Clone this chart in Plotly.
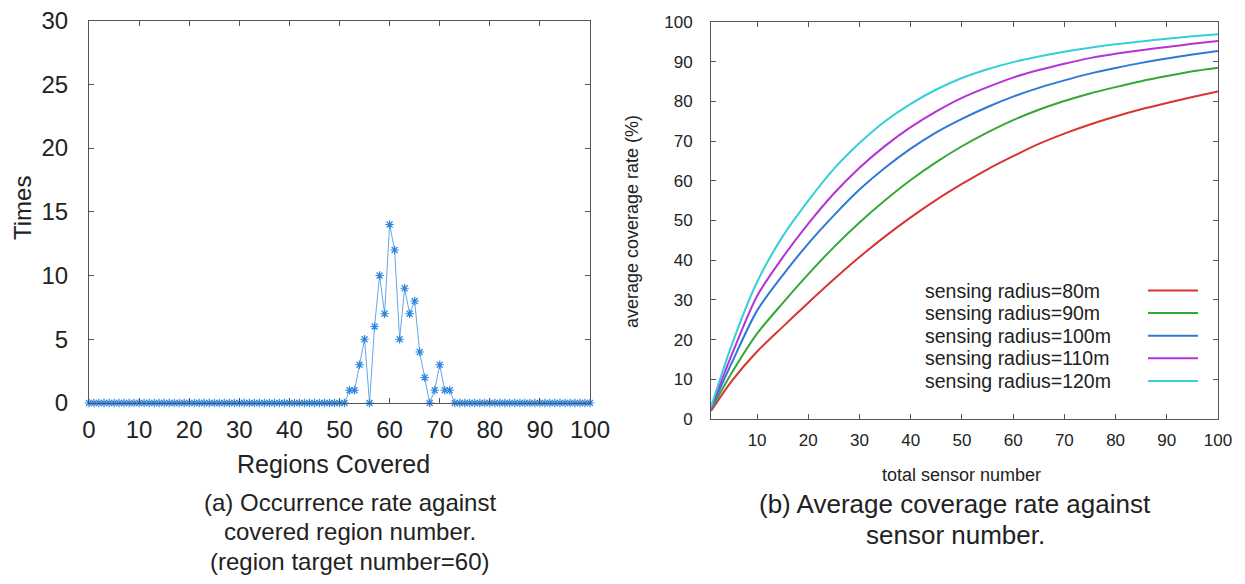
import plotly.graph_objects as go

# ---------- data: panel (a) ----------
regions = list(range(0, 101))
times = [0, 0, 0, 0, 0, 0, 0, 0, 0, 0,
         0, 0, 0, 0, 0, 0, 0, 0, 0, 0,
         0, 0, 0, 0, 0, 0, 0, 0, 0, 0,
         0, 0, 0, 0, 0, 0, 0, 0, 0, 0,
         0, 0, 0, 0, 0, 0, 0, 0, 0, 0,
         0, 0, 1, 1, 3, 5, 0, 6, 10, 7,
         14, 12, 5, 9, 7, 8, 4, 2, 0, 1,
         3, 1, 1, 0, 0, 0, 0, 0, 0, 0,
         0, 0, 0, 0, 0, 0, 0, 0, 0, 0,
         0, 0, 0, 0, 0, 0, 0, 0, 0, 0,
         0]

# ---------- data: panel (b) ----------
sensors = [1, 5, 10, 15, 20, 25, 30, 35, 40, 45, 50, 55, 60, 65, 70, 75, 80, 85, 90, 95, 100]
cov_80 = [2.0, 9.5, 17.0, 23.2, 29.3, 35.2, 40.8, 46.0, 50.8, 55.2, 59.2, 62.9, 66.2, 69.3, 71.9, 74.2, 76.2, 78.0, 79.6, 81.1, 82.5]
cov_90 = [2.3, 11.5, 21.5, 29.2, 36.5, 43.3, 49.5, 55.1, 60.2, 64.7, 68.7, 72.2, 75.3, 77.9, 80.1, 82.0, 83.6, 85.1, 86.4, 87.6, 88.5]
cov_100 = [2.5, 14.0, 27.3, 36.2, 44.2, 51.3, 57.8, 63.3, 68.1, 72.2, 75.6, 78.6, 81.2, 83.4, 85.3, 87.0, 88.4, 89.7, 90.8, 91.8, 92.7]
cov_110 = [2.7, 16.0, 31.0, 40.7, 49.2, 56.8, 63.3, 68.8, 73.5, 77.5, 80.9, 83.6, 86.0, 87.9, 89.5, 90.9, 92.0, 92.9, 93.7, 94.5, 95.2]
cov_120 = [3.0, 18.5, 34.5, 46.0, 55.0, 63.0, 69.5, 75.0, 79.4, 83.0, 85.9, 88.1, 89.9, 91.3, 92.5, 93.5, 94.4, 95.1, 95.8, 96.4, 96.9]
series_names = ["sensing radius=80m", "sensing radius=90m", "sensing radius=100m",
                "sensing radius=110m", "sensing radius=120m"]
series_vals = [cov_80, cov_90, cov_100, cov_110, cov_120]
series_colors = ["#d93434", "#34a834", "#2f79d6", "#b532d6", "#34cfd9"]

FONT = "Liberation Sans, Arial, sans-serif"
TXT = "#222222"
AX = "#555555"

# the page body adds an 8px margin around the plot
OFF = 8
W, H = 1245 - 2 * OFF, 584 - 2 * OFF


def px_x(px):
    return (px - OFF) / W


def px_y(py):
    return 1 - (py - OFF) / H


fig = go.Figure()

fig.add_trace(go.Scatter(
    x=regions, y=times, mode="lines+markers",
    line=dict(color="#62a8ec", width=1),
    marker=dict(symbol="asterisk-open", size=7, color="#2f86e0",
                line=dict(color="#2f86e0", width=1.2)),
    cliponaxis=False, showlegend=False, xaxis="x", yaxis="y"))

for name, vals, col in zip(series_names, series_vals, series_colors):
    fig.add_trace(go.Scatter(
        x=sensors, y=vals, mode="lines", name=name,
        line=dict(color=col, width=2, shape="spline", smoothing=0.8),
        showlegend=False, xaxis="x2", yaxis="y2"))

axis_common = dict(showgrid=False, zeroline=False, showline=True, linecolor=AX,
                   linewidth=1, mirror="ticks", ticks="inside", tickcolor=AX,
                   ticklen=5, automargin=False, ticklabeloverflow="allow")

fig.update_layout(
    width=W, height=H,
    margin=dict(l=0, r=0, t=0, b=0, autoexpand=False),
    paper_bgcolor="white", plot_bgcolor="white",
    font=dict(family=FONT, color=TXT),
    xaxis=dict(domain=[px_x(89), px_x(590)], range=[0, 100], tickvals=list(range(0, 101, 10)),
               tickfont=dict(size=24, color=TXT), anchor="y",
               ticklabelstandoff=5, **axis_common),
    yaxis=dict(domain=[px_y(403), px_y(20.5)], range=[0, 30], dtick=5,
               tickfont=dict(size=24, color=TXT), anchor="x",
               ticklabelstandoff=15, **axis_common),
    xaxis2=dict(domain=[px_x(711), px_x(1218)], range=[1, 100], tickvals=list(range(10, 101, 10)),
                tickfont=dict(size=17, color=TXT), anchor="y2",
                ticklabelstandoff=6, **axis_common),
    yaxis2=dict(domain=[px_y(419), px_y(22)], range=[0, 100], dtick=10,
                tickfont=dict(size=17, color=TXT), anchor="x2",
                ticklabelstandoff=14, **axis_common),
)


def label(text, xpx, ypx, size, angle=0, xanchor="center"):
    return dict(text=text, x=px_x(xpx), y=px_y(ypx), xref="paper", yref="paper",
                xanchor=xanchor, yanchor="middle", textangle=angle, showarrow=False,
                font=dict(size=size, color=TXT))


ann = []
# panel (a) axis titles and caption
ann.append(label("Times", 22, 208, 24, angle=-90))
ann.append(label("Regions Covered", 333, 464, 25))
for i, line in enumerate(["(a) Occurrence rate against", "covered region number.",
                          "(region target number=60)"]):
    ann.append(label(line, 350, 502 + 29.5*i, 24))
# panel (b) axis titles and caption
ann.append(label("average coverage rate (%)", 632, 222, 18, angle=-90))
ann.append(label("total sensor number", 961, 475, 18))
for i, line in enumerate(["(b) Average coverage rate against", "sensor number."]):
    ann.append(label(line, 955, 504 + 31*i, 26))

# legend panel (b)
shapes = []
for i, (name, col) in enumerate(zip(series_names, series_colors)):
    ypx = 290.5 + 22.6*i
    ann.append(label(name, 923, ypx, 19.5, xanchor="left"))
    shapes.append(dict(type="line", xref="paper", yref="paper",
                       x0=px_x(1148), x1=px_x(1198), y0=px_y(ypx), y1=px_y(ypx),
                       line=dict(color=col, width=2)))

fig.update_layout(annotations=ann, shapes=shapes)

fig.write_html("out.html")
